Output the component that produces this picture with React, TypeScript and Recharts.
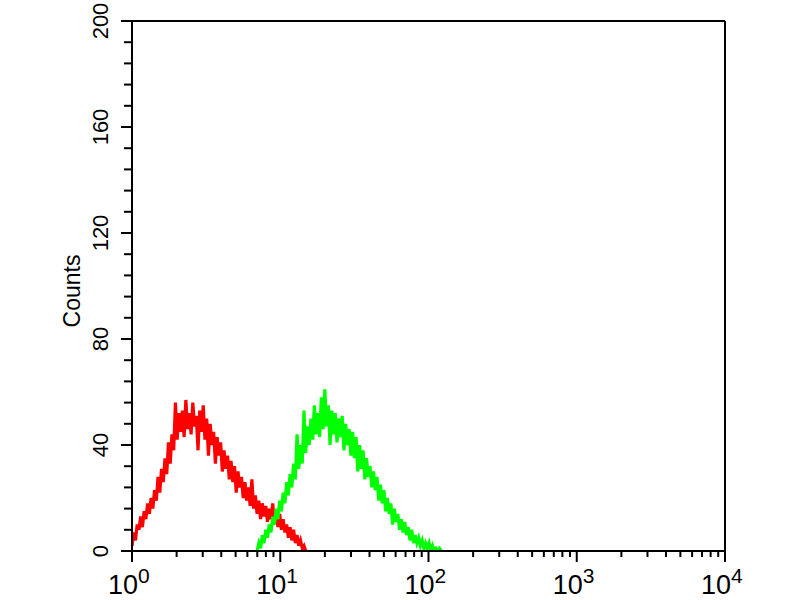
import React from "react";
import { LineChart, Line, XAxis, YAxis, ReferenceLine } from "recharts";

// Histogram counts per channel bin (1024 channels = 4 decades)
const CHANNELS_PER_DECADE = 256;
const CHANNEL_STEP = 3;
const RED_START_CHANNEL = 0;
const GREEN_START_CHANNEL = 216;

const RED_COUNTS = [
  2, 7, 4, 10, 8, 13, 9, 15, 12, 18, 14, 20, 16, 23, 19, 28, 22, 31, 26, 35,
  29, 41, 33, 44, 38, 56, 42, 52, 45, 53, 43, 57, 46, 52, 44, 56, 47, 51, 38, 53,
  45, 55, 42, 50, 36, 48, 40, 45, 33, 43, 36, 41, 30, 38, 31, 36, 27, 34, 26, 32,
  22, 30, 24, 28, 20, 26, 19, 24, 17, 27, 16, 21, 14, 19, 12, 18, 13, 17, 11, 16,
  12, 18, 10, 15, 9, 14, 8, 12, 7, 10, 5, 9, 4, 8, 3, 6, 2, 4, 1, 2, 0,
];

const GREEN_COUNTS = [
  0, 3, 1, 6, 3, 8, 5, 10, 7, 13, 10, 16, 12, 19, 15, 22, 18, 26, 21, 29,
  24, 33, 27, 44, 31, 40, 33, 53, 37, 47, 40, 50, 42, 55, 44, 52, 43, 58, 46, 61,
  47, 55, 40, 53, 44, 52, 41, 50, 43, 51, 38, 48, 40, 46, 36, 45, 35, 43, 30, 40,
  31, 38, 27, 35, 28, 32, 24, 30, 23, 28, 19, 25, 18, 23, 15, 20, 14, 18, 10, 16,
  11, 14, 8, 12, 7, 11, 6, 9, 4, 8, 3, 6, 3, 5, 2, 4, 1, 3, 1, 3,
  0, 2, 0, 1, 0, 1, 0,
];

const DECADES = [0, 1, 2, 3, 4];
const MINOR_MULTIPLIERS = [2, 3, 4, 5, 6, 7, 8, 9];
const Y_LABELED = [0, 40, 80, 120, 160, 200];
const Y_TICK_STEP = 8;
const Y_MAX = 200;

const redData = RED_COUNTS.map((c, i) => ({ x: RED_START_CHANNEL + i * CHANNEL_STEP, y: c }));
const greenData = GREEN_COUNTS.map((c, i) => ({ x: GREEN_START_CHANNEL + i * CHANNEL_STEP, y: c }));

const xTicks: number[] = [];
DECADES.forEach((d) => {
  xTicks.push(d * CHANNELS_PER_DECADE);
  if (d < DECADES.length - 1) {
    MINOR_MULTIPLIERS.forEach((m) => xTicks.push(d * CHANNELS_PER_DECADE + CHANNELS_PER_DECADE * Math.log10(m)));
  }
});

const yTicks: number[] = [];
for (let v = 0; v <= Y_MAX; v += Y_TICK_STEP) yTicks.push(v);

const FONT = "'Liberation Sans', Arial, Helvetica, sans-serif";

const XTick = (props: any) => {
  const { x, y, payload } = props;
  const decade = payload.value / CHANNELS_PER_DECADE;
  const isMajor = Math.abs(decade - Math.round(decade)) < 1e-6;
  return (
    <g>
      <line x1={x} x2={x} y1={y} y2={y + (isMajor ? 11 : 6)} stroke="#000" strokeWidth={2} />
      {isMajor && (
        <g fontFamily={FONT} fill="#000">
          <text x={x + 6} y={y + 43} textAnchor="end" fontSize={27}>10</text>
          <text x={x + 6} y={y + 32} textAnchor="start" fontSize={21}>{Math.round(decade)}</text>
        </g>
      )}
    </g>
  );
};

const YTick = (props: any) => {
  const { x, y, payload } = props;
  const v = payload.value;
  const isMajor = Y_LABELED.includes(v);
  return (
    <g>
      <line x1={x} x2={x - (isMajor ? 11 : 8)} y1={y} y2={y} stroke="#000" strokeWidth={2} />
      {isMajor && (
        <text
          x={x - 24}
          y={y}
          transform={`rotate(-90 ${x - 24} ${y})`}
          textAnchor="middle"
          fontSize={22}
          fontFamily={FONT}
          fill="#000"
        >
          {v}
        </text>
      )}
    </g>
  );
};

const CountsLabel = (props: any) => {
  const vb = props.viewBox || {};
  const cx = (vb.x ?? 72) + 8;
  const cy = (vb.y ?? 21) + (vb.height ?? 530) / 2 + 5;
  return (
    <text
      x={cx}
      y={cy}
      transform={`rotate(-90 ${cx} ${cy})`}
      textAnchor="middle"
      fontSize={23}
      fontFamily={FONT}
      fill="#000"
    >
      Counts
    </text>
  );
};

export default function App() {
  return (
    <div style={{ position: "absolute", left: 0, top: 0, width: 800, height: 600, background: "#fff" }}>
      <LineChart width={800} height={600} margin={{ top: 21, right: 75, bottom: 0, left: 72 }}>
        <XAxis
          type="number"
          dataKey="x"
          domain={[0, 4 * CHANNELS_PER_DECADE]}
          ticks={xTicks}
          interval={0}
          tick={<XTick />}
          tickLine={false}
          tickSize={0}
          tickMargin={0}
          height={49}
          axisLine={{ stroke: "#000", strokeWidth: 2 }}
          allowDataOverflow
        />
        <YAxis
          type="number"
          domain={[0, Y_MAX]}
          ticks={yTicks}
          interval={0}
          tick={<YTick />}
          tickLine={false}
          tickSize={0}
          tickMargin={0}
          width={60}
          axisLine={{ stroke: "#000", strokeWidth: 2 }}
          label={<CountsLabel />}
          allowDataOverflow
        />
        <ReferenceLine y={Y_MAX} stroke="#000" strokeWidth={2} />
        <ReferenceLine x={4 * CHANNELS_PER_DECADE} stroke="#000" strokeWidth={2} />
        <Line
          data={redData}
          dataKey="y"
          type="linear"
          stroke="#ff0000"
          strokeWidth={3.2}
          strokeLinejoin="miter"
          dot={false}
          isAnimationActive={false}
        />
        <Line
          data={greenData}
          dataKey="y"
          type="linear"
          stroke="#00ff00"
          strokeWidth={3.2}
          strokeLinejoin="miter"
          dot={false}
          isAnimationActive={false}
        />
      </LineChart>
    </div>
  );
}
